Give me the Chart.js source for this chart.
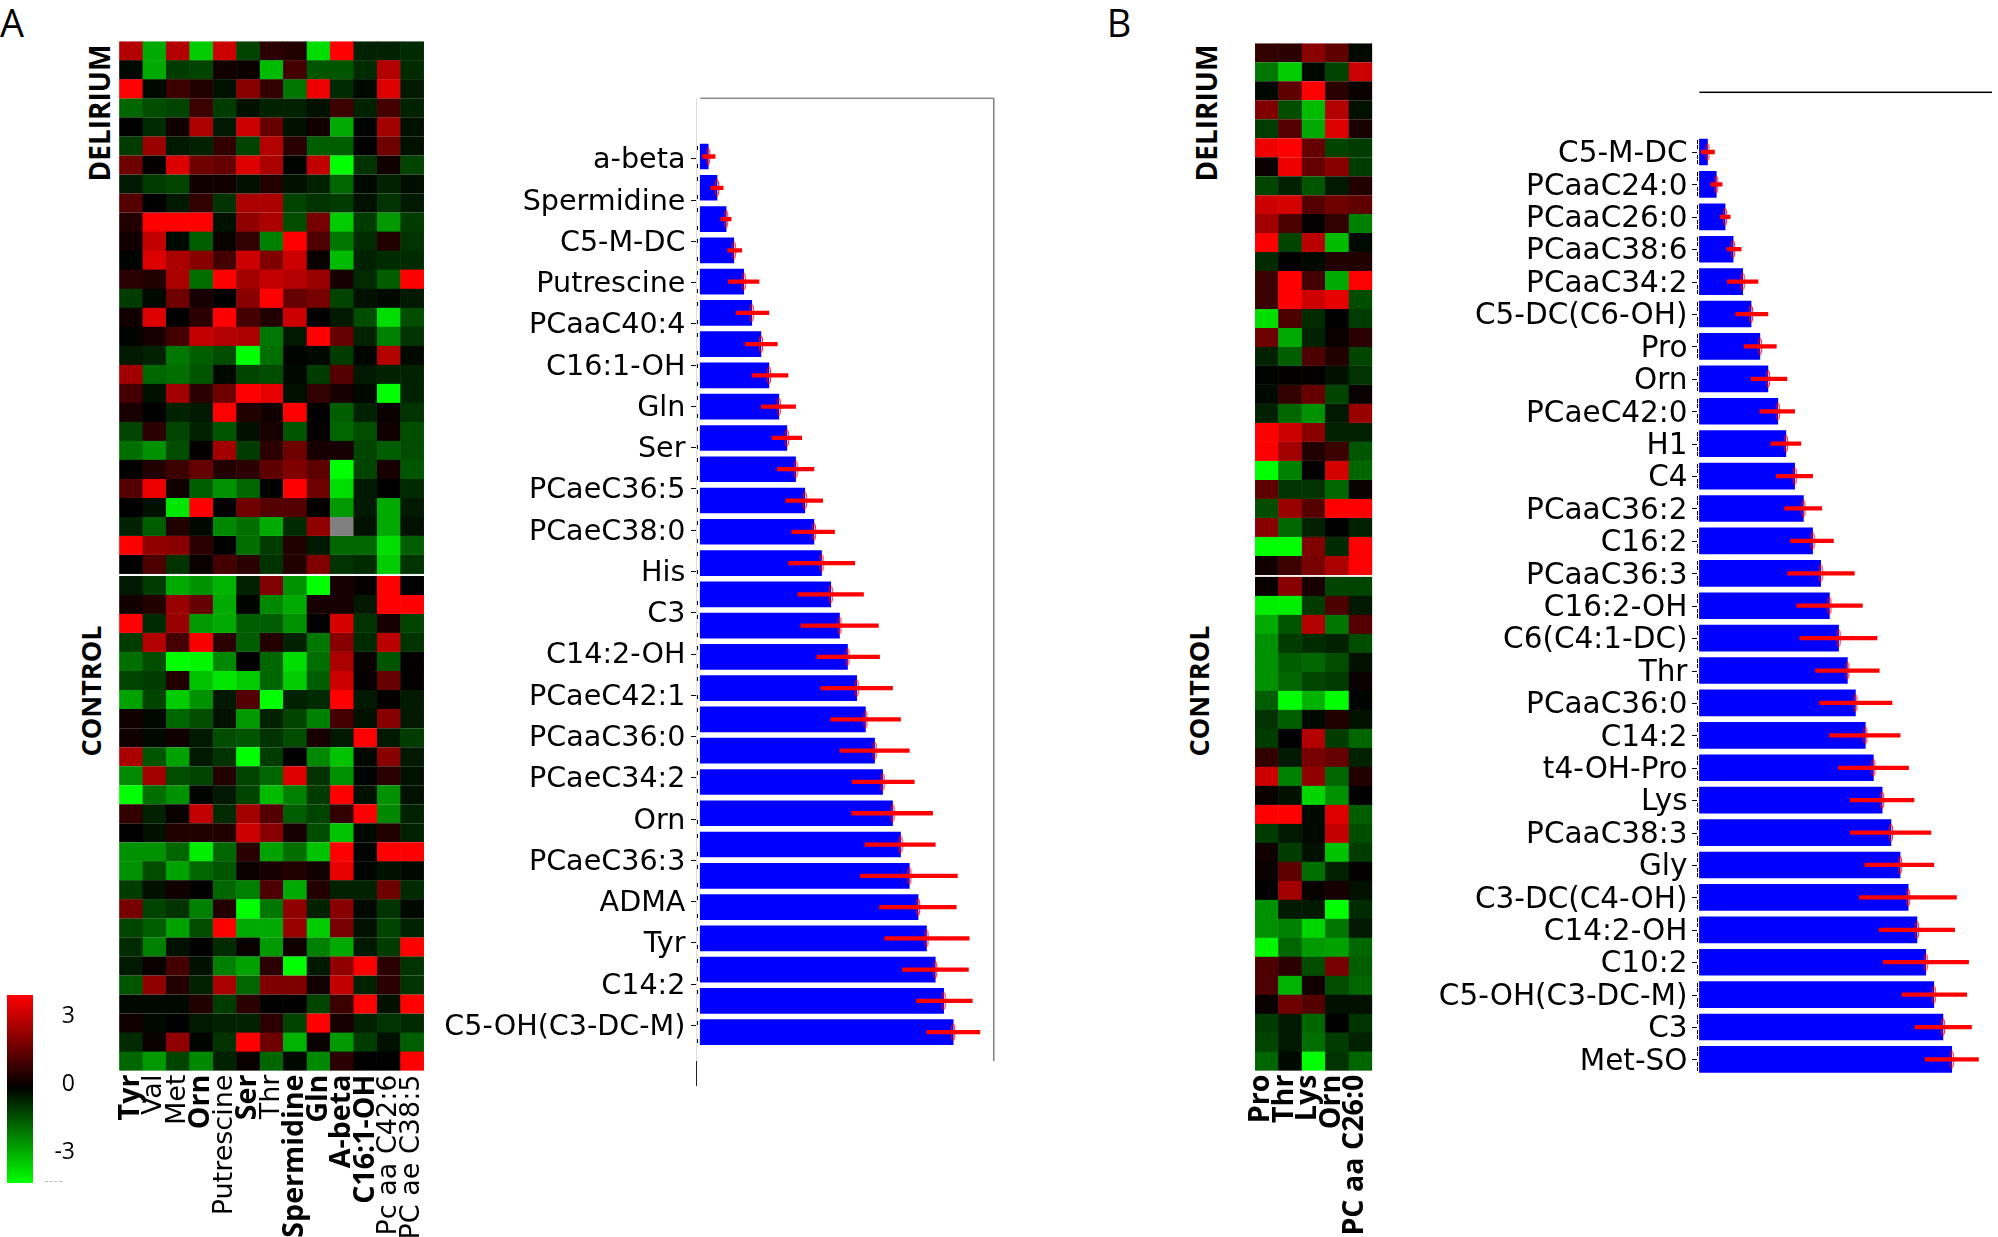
<!DOCTYPE html>
<html><head><meta charset="utf-8">
<script src="https://cdn.jsdelivr.net/npm/chart.js@4"></script>
<style>
html,body{margin:0;padding:0;background:#fff;width:1998px;height:1237px;overflow:hidden}
canvas{position:absolute;display:block}
.t{position:absolute;font-family:"Open Sans",sans-serif;color:#000;white-space:nowrap;transform:translate(-50%,-50%);line-height:1}
.v{transform:translate(-50%,-50%) rotate(-90deg);font-weight:700}
</style></head><body>
<div class="t" style="left:12px;top:22px;font-size:38px">A</div>
<div class="t" style="left:1119px;top:22px;font-size:38px">B</div>
<div class="t v" style="left:99px;top:113px;font-size:28px">DELIRIUM</div>
<div class="t v" style="left:90px;top:691px;font-size:27px">CONTROL</div>
<div class="t v" style="left:1206px;top:113px;font-size:28px">DELIRIUM</div>
<div class="t v" style="left:1198px;top:691px;font-size:27px">CONTROL</div>
<div style="position:absolute;left:45px;top:1181px;width:17px;border-top:1px dashed #bbb"></div>
<div style="position:absolute;left:696px;top:1060px;width:1px;height:26px;background:#222"></div>
<canvas id="heatA" width="364" height="1196" style="left:100px;top:41px"></canvas>
<canvas id="heatB" width="178" height="1194" style="left:1235px;top:43px"></canvas>
<canvas id="barA" width="570" height="1030" style="left:430px;top:70px"></canvas>
<canvas id="barB" width="568" height="1030" style="left:1430px;top:70px"></canvas>
<canvas id="scale" width="90" height="220" style="left:0;top:980px"></canvas>
<script>
const heatLabelsA = ["Tyr","Val","Met","Orn","Putrescine","Ser","Thr","Spermidine","Gln","A-beta","C16:1-OH","Pc aa C42:6","PC ae C38:5"];
const heatBoldA = ["Tyr","Orn","Ser","Spermidine","Gln","A-beta","C16:1-OH"];
const heatLabelsB = ["Pro","Thr","Lys","Orn","PC aa C26:0"];
const heatBoldB = ["Pro","Thr","Lys","Orn","PC aa C26:0"];

const deliriumA = [
[2.1,-2.0,2.1,-2.4,2.4,-0.8,0.5,0.4,-2.6,3,-0.4,-0.4,-0.5],
[-0.1,-2.0,-0.7,-0.8,0.2,0.1,-2.2,0.8,-1.0,-1.0,-0.5,2.1,-0.5],
[3,-0.1,0.7,0.4,-0.2,1.6,0.6,-1.4,2.8,-0.5,-0.1,2.6,-0.3],
[-1.2,-0.9,-0.8,0.7,-0.7,-0.2,-0.4,-0.4,-0.2,0.7,-0.4,0.8,-0.4],
[0,-0.5,0.2,2.0,-0.3,2.4,1.2,-0.2,0.2,-2.0,-0.05,1.9,-0.2],
[-0.7,1.8,-0.3,-0.4,0.6,-0.8,2.1,0.5,-1.1,-1.1,0,1.3,-0.2],
[1.3,0.05,2.6,1.3,1.2,2.6,2.0,-0.05,2.3,-3,-0.6,0.2,-0.8],
[-0.3,-0.7,-0.8,0.2,0.2,-0.2,0.4,-0.2,-0.4,-1.2,-0.1,-0.4,-0.15],
[1.0,0,-0.3,0.6,-0.6,2.0,2.0,-0.8,-0.6,-0.7,-0.2,-0.6,-0.3],
[0.4,3,3,3,-0.2,1.7,2.0,-0.9,1.4,-2.4,-0.7,-1.8,-0.7],
[0.2,2.3,-0.1,-1.1,0.1,0.6,-1.5,3,0.9,-1.4,-0.5,0.4,-0.6],
[-0.05,2.6,2.0,1.6,0.8,2.4,1.5,2.4,0.1,-2.2,-0.4,-0.5,-0.5],
[0.5,0.4,2.0,-1.3,3,1.9,2.3,2.1,1.8,0.3,-0.5,-1.1,3],
[-0.7,-0.1,1.3,0.3,0,1.6,3,1.2,1.4,-0.8,-0.2,-0.1,-0.3],
[0.2,2.6,0,0.5,3,0.8,0.4,2.4,0,-0.3,-0.9,-2.6,-0.9],
[-0.05,0.3,0.8,2.3,2.1,2.0,-1.4,-0.3,3,1.2,-0.4,-1.5,-0.6],
[-0.3,-0.4,-1.4,-1.1,-0.9,-3,-1.3,-0.05,-0.1,-0.7,-0.05,2.1,-0.1],
[1.9,-1.2,-1.3,-1.0,-0.1,-0.8,-0.9,-0.1,-0.7,1.0,-0.3,-0.4,-0.4],
[0.8,-0.2,1.9,0.5,1.3,3,2.7,-0.2,0.6,0.3,-0.1,-3,-0.4],
[0.3,0,-0.4,-0.3,3,0.4,0.2,3,0,-1.1,-0.4,0.1,-0.6],
[-0.8,0.5,-0.8,-0.4,-1.0,-0.2,0.3,-1.0,0.05,-1.2,-0.9,0.2,-0.9],
[-1.3,-1.7,-0.9,0.05,1.9,-0.7,0.5,1.3,0.3,0.3,-0.8,-1.1,-0.9],
[0,0.4,0.7,1.2,0.4,0.5,1.1,1.5,1.1,-3,-0.8,0.3,-1.0],
[1.0,2.8,0.2,-1.1,-1.7,-1.2,-0.05,3,1.3,-2.6,-0.3,0,-0.5],
[0,-0.2,-2.7,3,0,1.3,1.0,1.0,0.05,-1.8,-0.3,-2.0,-0.3],
[-0.4,-1.1,0.4,-0.1,-1.6,-1.3,-2.0,-0.5,1.7,null,-0.2,-2.0,-0.2],
[3,1.7,1.6,0.5,0,-1.3,-0.7,0.4,-0.3,-1.2,-1.2,-2.6,-1.1],
[0,0.9,-0.6,0.1,0.8,0.5,-0.6,0.4,1.5,-0.6,-0.5,-2.4,-0.6]
];
const controlA = [
[-0.3,-0.7,-2.0,-1.7,-2.1,-0.4,1.5,-1.7,-3,0.3,0.05,3,0],
[0.2,0.4,1.8,1.2,-2.0,-0.05,-1.6,-2.0,0.3,0.3,-0.3,3,3],
[3,-0.5,1.8,-1.8,-2.0,-1.1,-1.1,-1.7,0,2.5,-0.6,0.3,-0.8],
[-0.7,2.1,0.8,2.9,0.5,-1.1,0.4,-0.4,-1.4,1.6,-0.5,2.2,-0.6],
[-1.3,-0.9,-3,-2.9,-1.6,0,-1.2,-2.6,-1.3,2.0,0.1,-1.0,0.05],
[-0.8,-0.7,0.4,-2.3,-2.7,-2.4,-1.2,-2.4,-1.1,2.4,0.05,1.2,0.05],
[-1.9,-0.8,-2.4,-1.7,-0.3,1.0,-3,-0.4,-0.5,3,-0.3,0.05,-0.3],
[0.2,-0.1,-1.2,-0.9,-0.2,-1.8,-0.4,-0.8,-1.5,0.8,-0.2,1.6,-0.3],
[0.2,-0.1,0.2,-0.3,-0.9,-1.0,-0.6,-0.9,0.3,-0.3,3,-0.3,-0.7],
[2.0,-1.0,-1.9,-0.3,-0.6,-3,-0.7,0,-1.6,-2.3,-0.1,1.6,-0.3],
[-1.6,1.9,-0.9,-0.8,0.4,-0.8,-1.2,2.6,-0.6,-1.7,-0.05,0.5,-0.2],
[-3,-1.3,-1.7,-0.05,-0.3,-0.8,-2.2,-1.5,-0.7,3,-0.2,-1.7,-0.2],
[0.6,-0.4,0.1,2.3,-0.5,1.9,1.0,-1.1,-0.8,0.6,3,-1.6,-0.4],
[0,-0.2,0.4,0.4,0.4,2.4,1.6,0.3,-0.9,-2.3,-0.1,0.4,-0.4],
[-1.7,-1.7,-1.2,-2.8,-1.2,0.5,-1.9,-1.3,-2.3,3,-0.05,3,3],
[-1.7,-0.9,-1.9,-1.2,-1.0,0.1,0.3,0.4,0.2,2.7,-0.05,-0.2,-0.1],
[-0.7,-0.2,0.2,0,-1.2,-1.5,0.9,-2.0,0.4,-0.4,-0.4,1.3,-0.5],
[1.4,-0.8,-0.6,-1.5,0.4,-3,-1.4,1.7,-0.4,1.6,-0.1,-0.6,-0.1],
[-0.8,-1.1,-1.9,-0.9,3,-2.0,-2.0,1.8,-2.4,1.4,-0.2,-0.8,-0.4],
[-0.5,-1.5,-0.2,0,-0.5,0.1,-1.8,0.2,-1.5,-2.0,-0.3,-0.7,3],
[-0.3,0.1,0.8,-0.2,-1.5,-1.9,0.5,-3,-0.3,1.7,3,0.5,-0.6],
[-1.0,1.7,0.4,-0.4,2.0,-1.2,1.5,1.5,0.2,2.3,-0.4,0.5,-0.6],
[-0.1,-0.1,-0.1,0.4,-0.7,0.5,0,0,-0.8,0.7,3,-0.2,3],
[0.2,-0.1,0,-0.3,-0.4,-0.4,0.5,-0.8,3,0.3,-0.4,-0.6,-0.5],
[-0.5,0.1,1.7,-0.05,-0.6,3,1.3,-2.1,0.1,-1.8,-0.7,-0.2,-1.1],
[-1.2,-1.8,-0.8,-1.6,-0.4,0.1,-1.2,-0.1,-1.6,0.5,0,0,3]
];
const deliriumB = [
[0.6,0.5,1.6,1.1,-0.1],[-1.4,-2.4,-0.1,-0.8,2.4],[-0.1,1.1,3,0.5,0.1],[1.5,-0.9,-2.2,2.1,-0.2],
[-0.7,1.0,-2.0,2.6,0.3],[2.8,3,1.2,-0.8,-0.7],[0.1,2.8,1.2,1.6,-0.7],[-0.8,-0.4,-1.0,-0.3,0.4],
[2.4,2.5,1.0,1.3,1.1],[1.9,0.9,0.05,0.6,-1.5],[3,-0.8,2.2,-2.2,-0.1],[-0.5,0,-0.1,0.4,0.4],
[0.7,3,0.8,-2.0,3],[0.7,3,2.4,2.7,-0.9],[-2.6,0.9,-0.5,0,-0.7],[1.3,-2.0,-0.4,0.1,0.5],
[-0.4,-1.1,0.9,0.4,-0.8],[-0.05,0.05,0.05,-0.2,-0.6],[-0.1,0.6,1.2,-0.8,0.1],[-0.4,-1.2,-1.7,-0.3,1.8],
[3,2.4,1.6,-0.4,-0.4],[3,1.9,0.4,0.7,-1.0],[-3,-1.5,0,2.5,-1.2],[1.1,-0.6,-0.6,-1.2,0.1],
[-0.9,1.8,1.0,3,3],[1.6,-1.2,-0.4,0,-0.4],[-3,-3,1.5,-0.5,3],[0.2,0.7,1.4,2.0,3]
];
const controlB = [
[0.1,1.6,0.3,-0.8,-0.8],[-2.8,-2.8,-0.7,0.9,-0.3],[-2.0,-1.0,2.1,-1.4,1.0],[-1.7,-0.7,-0.5,-0.4,-0.9],
[-1.7,-1.1,-1.2,-0.9,-0.2],[-1.7,-1.2,-0.8,-0.7,0.1],[-1.1,-3,-2.1,-3,-0.05],[-0.6,-1.1,-0.1,0.4,-0.2],
[-0.7,0,2.1,-0.7,-1.2],[0.6,-0.3,1.4,1.2,-0.4],[2.4,-1.5,1.7,-1.2,0.4],[0.1,-0.2,-2.5,-1.7,0],
[3,3,-0.1,2.6,-1.1],[-0.7,-0.3,-0.1,2.3,-0.9],[0.2,-0.7,-0.2,-2.3,-0.7],[0.1,1.1,-1.3,-0.4,0.05],
[0,1.9,0.1,0.3,-0.2],[-1.7,-0.3,-0.3,-3,-0.5],[-1.7,-1.5,-2.5,-1.4,-0.3],[-2.9,-1.2,-1.8,-1.9,-1.2],
[0.9,0.5,-0.9,1.4,-1.1],[0.9,-2.1,0.2,-0.9,-1.2],[0.1,1.3,1.0,-0.2,-0.2],[-0.7,-0.3,-1.2,0,-0.6],
[-0.8,-0.3,-1.3,-0.7,-0.4],[-1.2,-0.1,-3,-0.6,-1.2]
];

const barTickLabelsA = ["a-beta","Spermidine","C5-M-DC","Putrescine","PCaaC40:4","C16:1-OH","Gln","Ser","PCaeC36:5","PCaeC38:0","His","C3","C14:2-OH","PCaeC42:1","PCaaC36:0","PCaeC34:2","Orn","PCaeC36:3","ADMA","Tyr","C14:2","C5-OH(C3-DC-M)"];
const barValuesA = [.21,.44,.68,.88,1.14,1.35,1.59,1.80,2.06,2.27,2.50,2.74,2.98,3.18,3.42,3.65,3.86,4.10,4.33,4.57,4.78,5.04,5.25,5.48,5.71,5.93,6.16,6.38,6.63];
const errLowA = [.06,.28,.54,.72,.74,.94,1.18,1.36,1.60,1.88,2.02,2.24,2.40,2.32,2.56,2.64,3.06,3.16,3.42,3.66,3.98,3.97,4.32,4.20,4.70,4.84,5.30,5.67,5.94];
const errHighA = [.39,.60,.81,1.09,1.54,1.80,2.02,2.30,2.50,2.66,2.98,3.21,3.52,4.05,4.28,4.67,4.70,5.04,5.25,5.48,5.61,6.09,6.16,6.74,6.71,7.05,7.03,7.13,7.33];

const barTickLabelsB = ["C5-M-DC","PCaaC24:0","PCaaC26:0","PCaaC38:6","PCaaC34:2","C5-DC(C6-OH)","Pro","Orn","PCaeC42:0","H1","C4","PCaaC36:2","C16:2","PCaaC36:3","C16:2-OH","C6(C4:1-DC)","Thr","PCaaC36:0","C14:2","t4-OH-Pro","Lys","PCaaC38:3","Gly","C3-DC(C4-OH)","C14:2-OH","C10:2","C5-OH(C3-DC-M)","C3","Met-SO"];
const barValuesB = [.22,.46,.70,.92,1.18,1.41,1.65,1.87,2.14,2.36,2.60,2.84,3.09,3.31,3.55,3.80,4.04,4.26,4.53,4.75,4.99,5.23,5.48,5.70,5.94,6.18,6.40,6.65,6.89];
const errLowB = [.05,.31,.57,.75,.76,.99,1.22,1.41,1.65,1.95,2.10,2.33,2.49,2.41,2.66,2.74,3.17,3.28,3.55,3.80,4.12,4.12,4.52,4.37,4.91,5.02,5.53,5.89,6.16];
const errHighB = [.41,.62,.84,1.14,1.60,1.87,2.10,2.39,2.60,2.77,3.09,3.34,3.66,4.23,4.45,4.85,4.91,5.26,5.48,5.71,5.86,6.32,6.40,7.02,6.97,7.35,7.30,7.43,7.62];

const scaleTicks = [-3,0,3];
const scaleRange = [-4.37,3.96];

Chart.defaults.animation = false;
Chart.defaults.responsive = false;
Chart.defaults.color = '#000';
const noLegend = {legend:{display:false},tooltip:{enabled:false}};

function heatColor(v){
  if(v===null) return '#808080';
  const c = Math.round(Math.min(Math.abs(v)/3,1)*255);
  return v>=0 ? `rgb(${c},0,0)` : `rgb(0,${c},0)`;
}
function heatChart(id,labels,bold,top,bottom,pad,plotH,canvasH,labelOffset){
  const GAP = 0.1, rows = [];
  top.forEach((row,r)=>row.forEach((v,c)=>rows.push({x:labels[c],y:[r,r+1],v})));
  bottom.forEach((row,r)=>row.forEach((v,c)=>rows.push({x:labels[c],y:[top.length+GAP+r,top.length+GAP+r+1],v})));
  const colors = rows.map(d=>heatColor(d.v));
  new Chart(document.getElementById(id),{
    type:'bar',
    data:{labels,datasets:[{data:rows,backgroundColor:colors,borderColor:colors,borderWidth:0.5,barPercentage:1,categoryPercentage:1,grouped:false}]},
    options:{
      layout:{padding:pad},
      plugins:noLegend,
      scales:{
        x:{type:'category',position:'bottom',grid:{display:false,drawTicks:false},border:{display:false},
           afterFit(s){s.height=canvasH-plotH-pad.top;},
           ticks:{autoSkip:false,minRotation:90,maxRotation:90,padding:4,labelOffset,color:'#000',
             font(ctx){const b=bold.includes(labels[ctx.index]);
               return b?{family:'"Open Sans"',weight:'bold',size:28.6}:{family:'"DejaVu Sans"',weight:'normal',size:27};}}},
        y:{type:'linear',display:false,offset:false,reverse:true,min:0,max:top.length+GAP+bottom.length}
      }
    }
  });
}
heatChart('heatA',heatLabelsA,heatBoldA,deliriumA,controlA,{left:19.3,right:40,top:0.3,bottom:0},1029.3,1196,0);
heatChart('heatB',heatLabelsB,heatBoldB,deliriumB,controlB,{left:20,right:40.7,top:0.2,bottom:0},1027.4,1194,-5.5);

const markerImg = (()=>{const c=document.createElement('canvas');c.width=6;c.height=20;
  const g=c.getContext('2d');g.strokeStyle='#f00';g.lineWidth=1;g.beginPath();g.ellipse(3,10,1.8,8.6,0,0,Math.PI*2);g.stroke();return c;})();

function axisMarks(o,tickAt,values){return {id:'axisMarks',afterDraw(chart){
  const g=chart.ctx,y=chart.scales.y,xs=chart.scales.x,left=xs.left;
  g.save();g.fillStyle='#000';
  tickAt.forEach(v=>g.fillRect(Math.round(left)-5,Math.round(y.getPixelForValue(v)),5,1));
  values.forEach((_,i)=>{const p=y.getPixelForValue(i);
    o.speckOffsets.forEach(d=>g.fillRect(Math.round(left+o.speckDx),Math.round(p+d-2),1,4));});
  g.fillStyle=o.topColor;
  g.fillRect(xs.getPixelForValue(0),chart.chartArea.top-0.75,xs.right-xs.getPixelForValue(0),1.5);
  g.restore();}};}

function barChart(id,tickLabels,tickAt,values,lo,hi,o){
  const rows=values.map((_,i)=>i);
  new Chart(document.getElementById(id),{
    type:'bar',
    data:{datasets:[
      {type:'scatter',data:rows.map(i=>({x:values[i],y:i})),pointStyle:markerImg,pointRadius:5,order:1,xAxisID:'x',yAxisID:'y'},
      {type:'bar',data:rows.map(i=>({x:[lo[i],hi[i]],y:i})),backgroundColor:'#ff0000',barThickness:3.6,grouped:false,order:2,xAxisID:'x',yAxisID:'y'},
      {type:'bar',data:rows.map(i=>({x:values[i],y:i})),backgroundColor:'#0000ff',barThickness:o.barH,grouped:false,order:3,xAxisID:'x',yAxisID:'y'}
    ]},
    plugins:[axisMarks(o,tickAt,values)],
    options:{
      indexAxis:'y',
      layout:{padding:o.pad},
      plugins:noLegend,
      scales:{
        x:{type:'linear',position:'top',min:o.xMin,max:o.xMax,
           grid:{display:false},ticks:{display:false},border:{display:false},
           afterFit(s){s.height=0;}},
        y:{type:'linear',position:'left',offset:false,reverse:true,min:o.yMin,max:o.yMax,
           afterBuildTicks(s){s.ticks=tickAt.map(v=>({value:v+o.labelShift}));},
           afterFit(s){s.width=o.axisW;},
           grid:{display:false,drawTicks:true,tickLength:5},
           border:{display:o.spine,color:'#dddddd',width:1},
           ticks:{autoSkip:false,padding:o.labelPad,color:'#000',font:{family:'"DejaVu Sans"',size:o.font},
             callback(v,i){return tickLabels[i];}}},
        yEdge:{type:'linear',position:'right',display:o.edge,min:0,max:1,
           grid:{display:false},ticks:{display:false},
           border:{display:true,color:'#808080',width:1.5},
           afterFit(s){s.width=0;}}
      }
    }
  });
}
const STEP_A = 1.3195;
barChart('barA',barTickLabelsA,barTickLabelsA.map((_,i)=>0.058+i*STEP_A),barValuesA,errLowA,errHighA,{
  pad:{left:0,right:5,top:28.3,bottom:40},axisW:266.4,xMin:-0.1,xMax:7.7,yMin:-1.861,yMax:28.89,font:28.6,labelPad:6,labelShift:0.08,
  barH:25,topColor:'#8a8a8a',spine:true,edge:true,speckDx:0.5,speckOffsets:[-9,9]});
barChart('barB',barTickLabelsB,barTickLabelsB.map((_,i)=>i),barValuesB,errLowB,errHighB,{
  pad:{left:0,right:0,top:22.3,bottom:25},axisW:266.5,xMin:-0.08,xMax:7.99,yMin:-1.842,yMax:28.48,font:29.5,labelPad:4,labelShift:0.08,
  barH:26,topColor:'#000000',spine:false,edge:false,speckDx:0,speckOffsets:[-10,-5,5,10]});

new Chart(document.getElementById('scale'),{
  type:'bar',
  data:{labels:[''],datasets:[{data:[scaleRange],barPercentage:1,categoryPercentage:1,
    backgroundColor(ctx){const a=ctx.chart.chartArea;if(!a)return '#000';
      const g=ctx.chart.ctx.createLinearGradient(0,a.top,0,a.bottom);
      g.addColorStop(0,'#ff0000');g.addColorStop(0.49,'#000000');g.addColorStop(1,'#00ff00');return g;}}]},
  options:{
    layout:{padding:{left:7,right:15,top:15,bottom:17}},
    plugins:noLegend,
    scales:{
      x:{display:false},
      y:{position:'right',min:scaleRange[0],max:scaleRange[1],
         afterBuildTicks(s){s.ticks=scaleTicks.map(value=>({value}));},
         afterFit(s){s.width=42;},
         grid:{display:false},border:{display:false},
         ticks:{autoSkip:false,crossAlign:'far',padding:0,color:'#000',font:{family:'"Open Sans"',size:23},
           callback(v){return String(v);}}}
    }
  }
});
</script>
</body></html>
